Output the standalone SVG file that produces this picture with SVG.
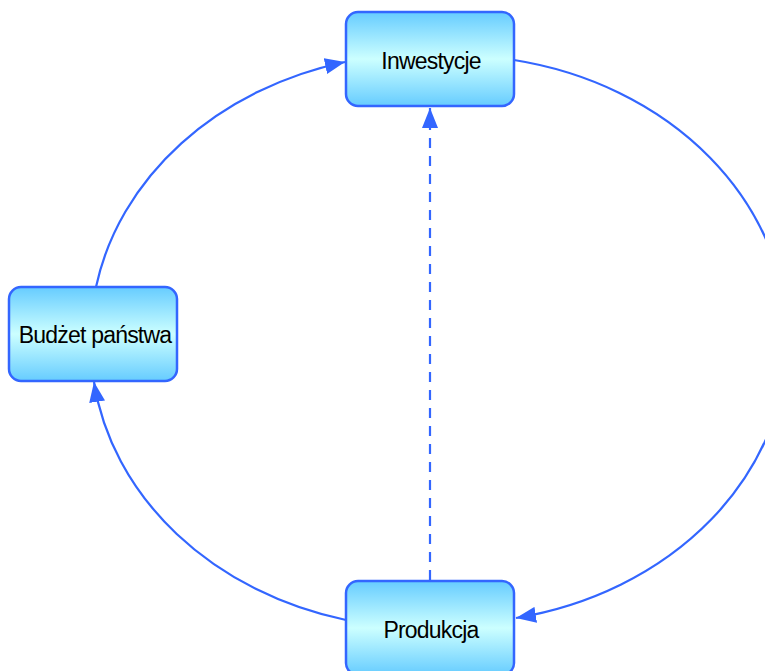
<svg xmlns="http://www.w3.org/2000/svg" width="765" height="671" viewBox="0 0 765 671">
<style>
.node rect{fill:url(#g);stroke:#3366ff;stroke-width:2.5}
.node text{font-family:"Liberation Sans",Arial,sans-serif;font-size:23px;fill:#000;text-anchor:middle;letter-spacing:-0.8px}
.edge{fill:none;stroke:#3366ff;stroke-width:2.2}
.dash{stroke-dasharray:10 8}
</style>
<defs>
<linearGradient id="g" x1="0" y1="0" x2="0" y2="1">
<stop offset="0" stop-color="#66ccff"/>
<stop offset="0.5" stop-color="#ccffff"/>
<stop offset="1" stop-color="#66ccff"/>
</linearGradient>
<marker id="a" markerUnits="userSpaceOnUse" markerWidth="22" markerHeight="16" refX="20" refY="8" orient="auto">
<path d="M0,0 L20,8 L0,16 Z" fill="#3366ff"/>
</marker>
</defs>
<g id="connectors">
<path class="edge" d="M96 287 A335 284 0 0 1 345 62" marker-end="url(#a)"/>
<path class="edge" d="M514 60 A335 284 0 0 1 516 618" marker-end="url(#a)"/>
<path class="edge" d="M346 620 A335 284 0 0 1 94 382" marker-end="url(#a)"/>
<path class="edge dash" d="M430 580 L430 108" marker-end="url(#a)"/>
</g>
<g id="inwestycje" class="node">
<rect x="346" y="12" width="168" height="94" rx="12"/>
<text x="431" y="68.5">Inwestycje</text>
</g>
<g id="budzet" class="node">
<rect x="9" y="287" width="168" height="94" rx="12"/>
<text x="95" y="343">Budżet państwa</text>
</g>
<g id="produkcja" class="node">
<rect x="346" y="581" width="168" height="94" rx="12"/>
<text x="431" y="638">Produkcja</text>
</g>
</svg>
